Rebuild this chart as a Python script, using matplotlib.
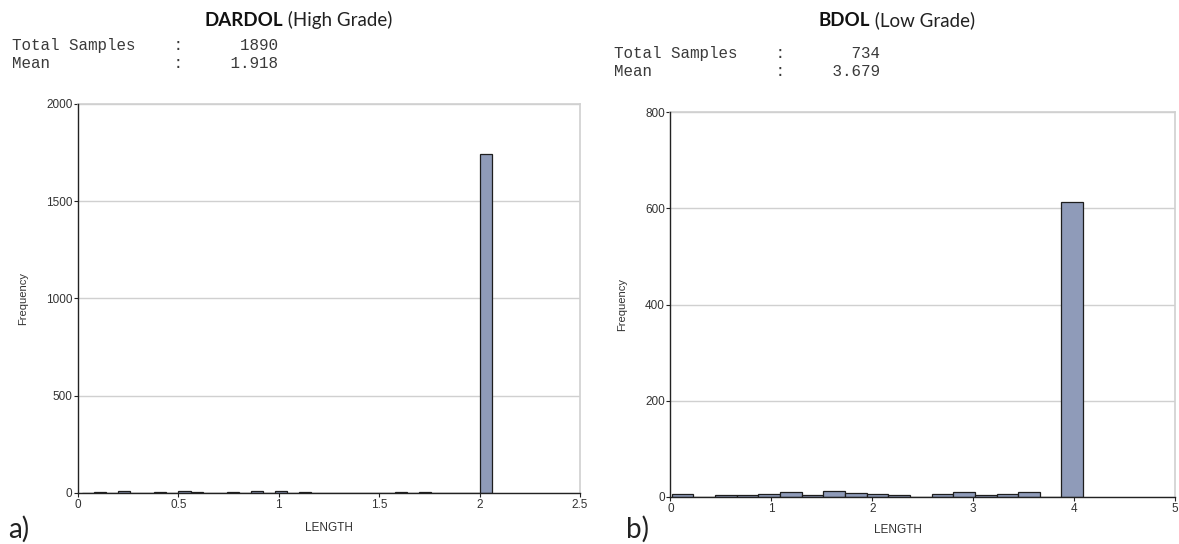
import numpy as np
import matplotlib
matplotlib.use("Agg")
import matplotlib.pyplot as plt

# DARDOL (high grade) sample lengths, binned
hg_width = 0.06
hg_left = 0.02 + hg_width * np.arange(34)
hg_freq = [1, 4, 1, 8, 1, 1, 3, 1, 12, 6, 1, 2, 3, 1, 10, 1, 12, 1,
           4, 1, 1, 2, 1, 2, 1, 1, 4, 1, 6, 1, 0, 0, 0, 1745]
hg_total, hg_mean = 1890, 1.918

# BDOL (low grade) sample lengths, binned
lg_width = 0.2146
lg_left = 0.012 + lg_width * np.arange(19)
lg_freq = [6, 1, 4, 4, 6, 10, 4, 13, 9, 7, 4, 1, 6, 10, 4, 6, 11, 1, 612]
lg_total, lg_mean = 734, 3.679

BAR = "#8f9bb9"
EDGE = "#1e1e1e"
TICK = "#333333"


def hist_panel(ax, left, freq, width, xmax, ymax, xticks, yticks, xfmt):
    ax.bar(left, freq, width=width, align="edge", color=BAR,
           edgecolor=EDGE, linewidth=0.9, zorder=3)
    ax.set_xlim(0, xmax)
    ax.set_ylim(0, ymax)
    ax.set_xticks(xticks)
    ax.set_xticklabels([xfmt(v) for v in xticks])
    ax.set_yticks(yticks)
    ax.grid(axis="y", color="#d0d0d0", linewidth=1.0, zorder=0)
    for side in ("top", "right"):
        ax.spines[side].set_color("#d0d0d0")
        ax.spines[side].set_linewidth(1.2)
    for side in ("left", "bottom"):
        ax.spines[side].set_color("#222222")
        ax.spines[side].set_linewidth(1.0)
        ax.spines[side].set_zorder(4)
    ax.tick_params(direction="out", length=3, width=0.8, colors="#222222",
                   labelcolor=TICK, labelsize=8.5, pad=1)
    for lab in ax.get_xticklabels() + ax.get_yticklabels():
        lab.set_family("Liberation Sans")
    ax.set_xlabel("LENGTH", fontsize=8.5, family="Liberation Sans", color=TICK)
    ax.set_ylabel("Frequency", fontsize=8, family="Liberation Sans", color=TICK)


def two_weight_title(fig, renderer, x, y, bold, rest, size=13.5):
    # bold name followed by a regular-weight qualifier, centred as one line
    t1 = fig.text(0, y, bold, fontsize=size, family="Lato", weight="bold",
                  color="#111111", va="baseline")
    t2 = fig.text(0, y, " " + rest, fontsize=size, family="Lato",
                  weight="normal", color="#222222", va="baseline")
    w1 = t1.get_window_extent(renderer).width / fig.bbox.width
    w2 = t2.get_window_extent(renderer).width / fig.bbox.width
    start = x - (w1 + w2) / 2
    t1.set_x(start)
    t2.set_x(start + w1)


fig = plt.figure(figsize=(11.79, 5.44), dpi=100)
renderer = fig.canvas.get_renderer()

ax1 = fig.add_axes([0.0662, 0.0938, 0.4258, 0.7151])
hist_panel(ax1, hg_left, hg_freq, hg_width, 2.5, 2000,
           [0, 0.5, 1, 1.5, 2, 2.5], [0, 500, 1000, 1500, 2000],
           lambda v: f"{v:g}")
ax1.xaxis.set_label_coords(0.5, -0.075)
ax1.yaxis.set_label_coords(-0.1, 0.5)

ax2 = fig.add_axes([0.5687, 0.0864, 0.4279, 0.7077])
hist_panel(ax2, lg_left, lg_freq, lg_width, 5, 800,
           [0, 1, 2, 3, 4, 5], [0, 200, 400, 600, 800],
           lambda v: f"{v:g}")
ax2.xaxis.set_label_coords(0.45, -0.07)
ax2.yaxis.set_label_coords(-0.085, 0.5)

two_weight_title(fig, renderer, 298 / 1179, 1 - 26 / 544, "DARDOL", "(High Grade)")
two_weight_title(fig, renderer, 897 / 1179, 1 - 26 / 544, "BDOL", "(Low Grade)")

mono = dict(fontsize=11.4, family="Liberation Mono", color="#3a3a3a", va="baseline")
fig.text(12 / 1179, 1 - 50 / 544, f"Total Samples    :{hg_total:>10d}", **mono)
fig.text(12 / 1179, 1 - 68 / 544, f"Mean             :{hg_mean:>10.3f}", **mono)
fig.text(614 / 1179, 1 - 58 / 544, f"Total Samples    :{lg_total:>10d}", **mono)
fig.text(614 / 1179, 1 - 76 / 544, f"Mean             :{lg_mean:>10.3f}", **mono)

fig.text(8 / 1179, 1 - 538 / 544, "a)", fontsize=20, family="Lato",
         color="#222222")
fig.text(626 / 1179, 1 - 538 / 544, "b)", fontsize=20, family="Lato",
         color="#222222")

fig.savefig("out.png", dpi=100, facecolor="white")
